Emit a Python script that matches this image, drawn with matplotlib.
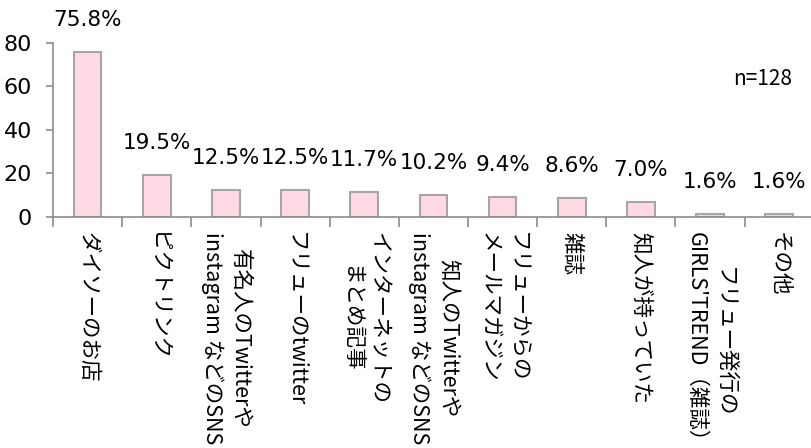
import matplotlib
matplotlib.use("Agg")
import matplotlib.pyplot as plt
import numpy as np

categories = [
    "ダイソーのお店",
    "ピクトリンク",
    "有名人のTwitterや\ninstagram などのSNS",
    "フリューのtwitter",
    "インターネットの\nまとめ記事",
    "知人のTwitterや\ninstagram などのSNS",
    "フリューからの\nメールマガジン",
    "雑誌",
    "知人が持っていた",
    "フリュー発行の\nGIRLS'TREND（雑誌）",
    "その他",
]
values = [75.8, 19.5, 12.5, 12.5, 11.7, 10.2, 9.4, 8.6, 7.0, 1.6, 1.6]
yticks = [0, 20, 40, 60, 80]

axis_color = "#8C8C8C"
jp_font = ["Noto Sans CJK JP", "DejaVu Sans"]

fig = plt.figure(figsize=(8.11, 4.48), dpi=100)
ax = fig.add_axes([0.0654, 0.5156, 0.938, 0.389])

x = np.arange(len(categories))
ax.bar(x, values, width=0.4, color="#FFD9E3", edgecolor="#A6A6A6", linewidth=1.5)

# 値ラベル（バーの上）
for xi, v in zip(x, values):
    ax.annotate(f"{v:.1f}%", (xi, v), xytext=(0, 23), textcoords="offset points",
                ha="center", va="center", fontsize=15.5, family="DejaVu Sans")

ax.text(0.972, 0.792, "n=128", transform=ax.transAxes, ha="right", va="center",
        fontsize=15, family=jp_font)

ax.set_xlim(-0.5, len(categories) - 0.5)
ax.set_ylim(0, 80)
ax.set_yticks(yticks)
ax.tick_params(axis="y", labelsize=16, color=axis_color, length=5, width=1.2, pad=10)
for lbl in ax.get_yticklabels():
    lbl.set_family("DejaVu Sans")

ax.set_xticks(x)
ax.set_xticklabels(categories, rotation=-90, ha="center", va="top",
                   multialignment="center", fontsize=15.5, linespacing=1.35,
                   family=jp_font)
ax.tick_params(axis="x", length=0, pad=11)
# カテゴリ境界の目盛り
ax.set_xticks(np.arange(len(categories) + 1) - 0.5, minor=True)
ax.tick_params(axis="x", which="minor", length=7, color=axis_color, width=1.2)

for side in ["top", "right"]:
    ax.spines[side].set_visible(False)
for side in ["left", "bottom"]:
    ax.spines[side].set_color(axis_color)
    ax.spines[side].set_linewidth(1.2)

fig.savefig("out.png", dpi=100)
